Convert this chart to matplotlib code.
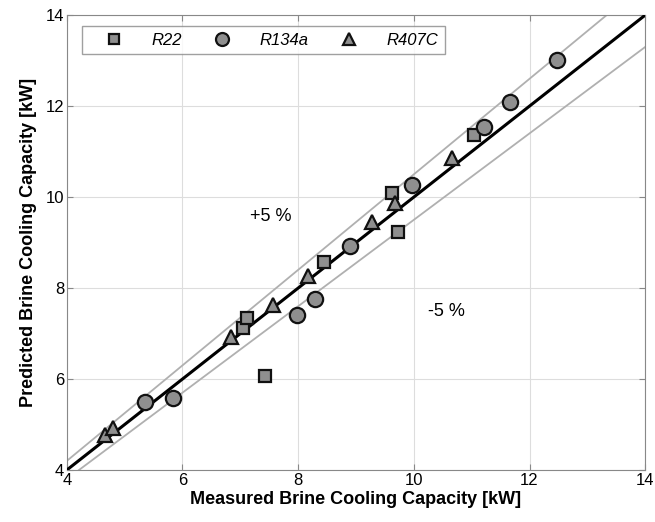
import numpy as np
import matplotlib
matplotlib.use("Agg")
import matplotlib.pyplot as plt

plt.rcParams['font.family'] = ['Liberation Sans', 'DejaVu Sans']

# measured vs predicted brine cooling capacity [kW]
r22_meas = [7.43, 7.05, 7.11, 8.45, 9.62, 9.73, 11.04]
r22_pred = [6.07, 7.12, 7.34, 8.57, 10.09, 9.23, 11.36]

r134a_meas = [5.35, 5.84, 7.98, 8.29, 8.90, 9.97, 11.21, 11.66, 12.48]
r134a_pred = [5.49, 5.58, 7.41, 7.76, 8.92, 10.26, 11.54, 12.08, 13.01]

r407c_meas = [4.66, 4.80, 6.84, 7.57, 8.17, 9.28, 9.67, 10.66]
r407c_pred = [4.77, 4.92, 6.92, 7.62, 8.26, 9.45, 9.87, 10.86]

fig = plt.figure(figsize=(6.55, 5.22), dpi=100)
ax = fig.add_axes([0.102, 0.0996, 0.883, 0.8714])

xx = np.array([4, 14])
ax.plot(xx, xx * 1.05, color='#b0b0b0', lw=1.3, zorder=2)
ax.plot(xx, xx * 0.95, color='#b0b0b0', lw=1.3, zorder=2)
ax.plot(xx, xx, color='black', lw=2.2, zorder=3)

fill = '#8f8f8f'
ax.plot(r22_meas, r22_pred, 's', ms=8.5, mfc=fill, mec='#111111', mew=1.6, ls='none', label='R22', zorder=4)
ax.plot(r134a_meas, r134a_pred, 'o', ms=11, mfc=fill, mec='#111111', mew=1.6, ls='none', label='R134a', zorder=4)
ax.plot(r407c_meas, r407c_pred, '^', ms=10, mfc=fill, mec='#111111', mew=1.6, ls='none', label='R407C', zorder=4)

ax.text(7.53, 9.58, '+5 %', fontsize=13, ha='center', va='center')
ax.text(10.57, 7.49, '-5 %', fontsize=13, ha='center', va='center')

ax.set_xlim(4, 14)
ax.set_ylim(4, 14)
ax.set_xticks([4, 6, 8, 10, 12, 14])
ax.set_yticks([4, 6, 8, 10, 12, 14])
ax.grid(True, color='#dddddd', lw=0.8)
ax.set_axisbelow(True)
ax.tick_params(direction='in', top=True, right=True, labelsize=12, length=4, color='#888888', pad=2)
for s in ax.spines.values():
    s.set_color('#888888')

ax.set_xlabel('Measured Brine Cooling Capacity [kW]', fontsize=13, fontweight='bold', labelpad=2)
ax.set_ylabel('Predicted Brine Cooling Capacity [kW]', fontsize=13, fontweight='bold', labelpad=6)

leg = ax.legend(loc='upper left', ncol=3, prop={'style': 'italic', 'size': 12},
                frameon=True, fancybox=False, edgecolor='#888888', borderpad=0.4,
                markerscale=0.85, handlelength=3.1, columnspacing=0.85, handletextpad=0.7,
                borderaxespad=0, bbox_to_anchor=(0.026, 0.976))
leg.get_frame().set_linewidth(1.0)

fig.savefig('out.png', dpi=100)
